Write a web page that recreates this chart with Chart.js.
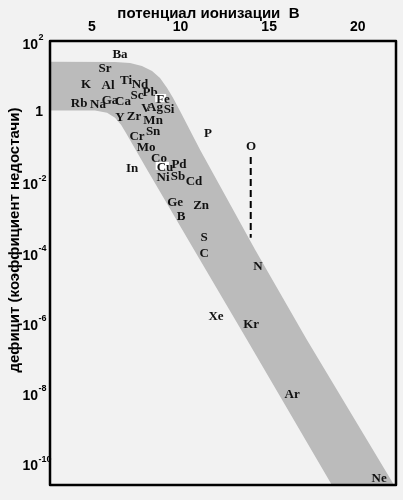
<!DOCTYPE html>
<html><head><meta charset="utf-8">
<script src="https://cdn.jsdelivr.net/npm/chart.js@4.4.1/dist/chart.umd.min.js"></script>
<style>html,body{margin:0;padding:0;background:#f2f2f2;} #wrap{width:403px;height:500px;position:relative;}</style>
</head><body><div id="wrap"><canvas id="c"></canvas></div>
<script>
// ---- data ----
const elementNames = ['Ba','Sr','K','Al','Ti','Nd','Sc','Pb','Fe','Rb','Na','Ga','Ca','V','Ag','Si','Y','Zr','Mn','Sn','Cr','P','Mo','Co','Pd','Cu','In','Ni','Sb','Cd','O','Ge','Zn','B','S','C','N','Xe','Kr','Ar','Ne'];
const elementX = [6.58,5.74,4.66,5.91,6.92,7.71,7.54,8.28,9.01,4.27,5.34,6.02,6.75,8.05,8.56,9.35,6.58,7.37,8.45,8.45,7.54,11.55,8.05,8.78,9.91,9.12,7.26,9.01,9.86,10.76,13.98,9.69,11.16,10.03,11.33,11.33,14.37,12.00,13.98,16.30,21.21];
const elementY = [40,16,5.6,5.2,7.3,5.6,2.7,3.3,2.1,1.6,1.5,2.0,1.85,1.17,1.24,1.1,0.65,0.69,0.53,0.26,0.19,0.23,0.091,0.044,0.030,0.0245,0.023,0.0127,0.0136,0.0098,0.097,0.0025,0.0020,0.0010,2.5e-4,8.8e-5,3.7e-5,1.4e-6,8.4e-7,8.6e-9,3.5e-11];
const boxedLabels = ['Fe','Cu'];

const bandUpperX = [2.63, 6.30, 7.15, 7.82, 8.39, 8.84, 9.24, 9.58, 9.97, 11.10, 14.21, 17.12, 22.05];
const bandUpperY = [25.8, 25.3, 23.7, 19.5, 14.0, 8.9, 4.6, 2.4, 1.02, 0.080, 1.14e-4, 3.2e-7, 2.3e-11];
const bandLowerX = [18.54, 13.74, 10.76, 8.08, 6.92, 6.64, 6.30, 5.85, 5.17, 2.63];
const bandLowerY = [2.3e-11, 3.2e-7, 1.14e-4, 0.023, 0.24, 0.41, 0.65, 0.90, 1.05, 1.05];

const oLineX = [13.96, 13.96];
const oLineY = [0.050, 2.5e-4];

const xTickValues = [5, 10, 15, 20];
const yTickValues = [1e-10, 1e-8, 1e-6, 1e-4, 1e-2, 1, 1e2];
const yTickBase = ['10', '10', '10', '10', '10', '1', '10'];
const yTickExp = ['-10', '-8', '-6', '-4', '-2', '', '2'];

const xMin = 2.63, xMax = 22.16, yMin = 2.3e-11, yMax = 100;
const xTitle = 'потенциал ионизации  В';
const yTitle = 'дефицит (коэффициент недостачи)';

// ---- build datasets ----
const bandPoints = bandUpperX.map((x, i) => ({x, y: bandUpperY[i]}))
  .concat(bandLowerX.map((x, i) => ({x, y: bandLowerY[i]})));
const oPoints = oLineX.map((x, i) => ({x, y: oLineY[i]}));
const elemPoints = elementX.map((x, i) => ({x, y: elementY[i]}));

const bgPlugin = {
  id: 'bg',
  beforeDraw(chart) {
    const ctx = chart.ctx;
    ctx.save(); ctx.fillStyle = '#f2f2f2';
    ctx.fillRect(0, 0, chart.width, chart.height); ctx.restore();
  }
};
const labelPlugin = {
  id: 'elementLabels',
  afterDatasetsDraw(chart) {
    const meta = chart.getDatasetMeta(2);
    const ctx = chart.ctx;
    ctx.save();
    ctx.font = 'bold 13px "Liberation Serif"';
    ctx.textAlign = 'center';
    ctx.textBaseline = 'middle';
    meta.data.forEach((pt, i) => {
      const name = elementNames[i];
      if (boxedLabels.includes(name)) {
        const w = ctx.measureText(name).width;
        ctx.fillStyle = '#ffffff';
        ctx.fillRect(pt.x - w / 2 - 1, pt.y - 6, w * 0.8, 8);
      }
      ctx.fillStyle = '#111111';
      ctx.fillText(name, pt.x, pt.y);
    });
    ctx.restore();
  }
};
// y tick labels with real superscript exponents, placed through the y scale
const yTickPlugin = {
  id: 'yTickLabels',
  afterDraw(chart) {
    const ys = chart.scales.y, ctx = chart.ctx;
    ctx.save();
    ctx.fillStyle = '#000';
    ctx.textBaseline = 'middle';
    yTickValues.forEach((v, i) => {
      const py = ys.getPixelForValue(v);
      const base = yTickBase[i], exp = yTickExp[i];
      ctx.font = 'bold 14px "Liberation Sans"';
      if (exp) {
        ctx.textAlign = 'right';
        ctx.fillText(base, 38, py + 4);
        ctx.font = 'bold 9px "Liberation Sans"';
        ctx.textAlign = 'left';
        ctx.fillText(exp, 38.5, py - 3.5);
      } else {
        ctx.textAlign = 'right';
        ctx.fillText(base, 43, py + 0.5);
      }
    });
    ctx.restore();
  }
};
const framePlugin = {
  id: 'frame',
  afterDraw(chart) {
    const a = chart.chartArea, ctx = chart.ctx;
    ctx.save();
    ctx.strokeStyle = '#000'; ctx.lineWidth = 2.5; ctx.lineJoin = 'round';
    ctx.strokeRect(a.left, a.top, a.right - a.left, a.bottom - a.top);
    ctx.restore();
  }
};

new Chart(document.getElementById('c'), {
  type: 'scatter',
  data: {
    datasets: [
      { data: bandPoints, showLine: true, fill: 'shape', backgroundColor: '#bbbbbb',
        borderWidth: 0, borderColor: 'rgba(0,0,0,0)', pointRadius: 0, tension: 0 },
      { data: oPoints, showLine: true, fill: false, borderColor: '#000', borderWidth: 2,
        borderDash: [7, 4], pointRadius: 0 },
      { data: elemPoints, pointRadius: 0, showLine: false }
    ]
  },
  options: {
    responsive: true, maintainAspectRatio: false, animation: false,
    layout: { padding: { left: 0, top: 0, right: 7, bottom: 15 } },
    plugins: { legend: { display: false }, tooltip: { enabled: false } },
    scales: {
      x: {
        type: 'linear', position: 'top', min: xMin, max: xMax,
        grid: { display: false, drawTicks: false }, border: { display: false },
        afterBuildTicks(scale) { scale.ticks = xTickValues.map(v => ({value: v})); },
        afterFit(scale) { scale.height = 41; },
        ticks: { padding: 5, color: '#000', font: { family: '"Liberation Sans"', size: 14, weight: 'bold' } },
        title: { display: true, text: xTitle + '       ', color: '#000', padding: { top: 5, bottom: 0 },
                 font: { family: '"Liberation Sans"', size: 15, weight: 'bold' } }
      },
      y: {
        type: 'logarithmic', position: 'left', min: yMin, max: yMax,
        grid: { display: false, drawTicks: false }, border: { display: false },
        afterBuildTicks(scale) { scale.ticks = yTickValues.map(v => ({value: v})); },
        afterFit(scale) { scale.width = 50; },
        ticks: { display: false },
        title: { display: true, text: '           ' + yTitle, color: '#000', padding: { top: 6, bottom: 0 },
                 font: { family: '"Liberation Sans"', size: 15, weight: 'bold' } }
      }
    }
  },
  plugins: [bgPlugin, labelPlugin, yTickPlugin, framePlugin]
});
</script>
</body></html>
